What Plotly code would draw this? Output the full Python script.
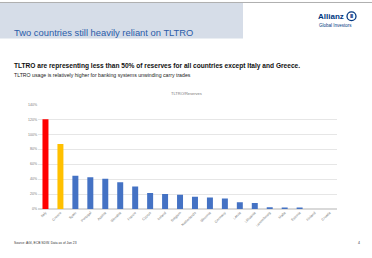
import plotly.graph_objects as go

W, H = 372, 258

countries = ["Italy", "Greece", "Spain", "Portugal", "Austria", "Slovakia", "France",
             "Cyprus", "Ireland", "Belgium", "Netherlands", "Slovenia", "Germany",
             "Latvia", "Lithuania", "Luxembourg", "Malta", "Estonia", "Finland", "Croatia"]
tltro_reserves = [120, 87, 44.5, 42.5, 40.5, 36, 30, 21.5, 20, 19, 16.5, 15.5, 14,
                  9, 8, 2.5, 1.5, 1.2, 0, 0]
y_ticks = [0, 20, 40, 60, 80, 100, 120, 140]
y_tick_labels = ["0%", "20%", "40%", "60%", "80%", "100%", "120%", "140%"]

colors = ["#ff0000", "#ffc000"] + ["#4472c4"] * (len(countries) - 2)

def px(x):
    return x / W

def py(y):
    return 1 - y / H

fig = go.Figure()
fig.add_trace(go.Bar(x=countries, y=tltro_reserves, marker_color=colors,
                     marker_line_width=0, showlegend=False))

fig.update_layout(
    width=W, height=H,
    margin=dict(l=0, r=0, t=0, b=0),
    paper_bgcolor="white", plot_bgcolor="white",
    bargap=0.6,
    font=dict(family="Arial, Liberation Sans, sans-serif"),
    xaxis=dict(domain=[px(38), px(337)], tickangle=-45, tickfont=dict(size=3.5, color="#777"),
               showgrid=False, showline=False, ticks="", ticklen=0),
    yaxis=dict(domain=[py(210.3), py(104)], range=[0, 140], tickvals=y_ticks,
               ticktext=y_tick_labels, tickfont=dict(size=3.5, color="#777"),
               gridcolor="#e6e6e6", gridwidth=1, zeroline=True, zerolinecolor="#d9d9d9",
               showline=False, ticks="", ticklen=0),
    shapes=[
        dict(type="rect", xref="paper", yref="paper", x0=0, x1=px(243), y0=py(37), y1=py(1),
             fillcolor="#d6dde8", line_width=0, layer="below"),
        dict(type="line", xref="paper", yref="paper", x0=0, x1=1, y0=py(0.5), y1=py(0.5),
             line=dict(color="#b0b0b0", width=1)),
        dict(type="circle", xref="paper", yref="paper", x0=px(347), x1=px(356),
             y0=py(19), y1=py(10), line=dict(color="#003781", width=1.3)),
    ],
    annotations=[
        dict(text="Two countries still heavily reliant on TLTRO", x=px(12), y=py(31),
             xref="paper", yref="paper", xanchor="left", yanchor="middle", showarrow=False,
             font=dict(size=9.4, color="#2b5ca8")),
        dict(text="<b>Allianz</b>", x=px(316), y=py(14.5), xref="paper", yref="paper",
             xanchor="left", yanchor="middle", showarrow=False,
             font=dict(size=8, color="#003781")),
        dict(text="<b>ⅲ</b>", x=px(351.5), y=py(14.5), xref="paper", yref="paper",
             xanchor="center", yanchor="middle", showarrow=False,
             font=dict(size=5, color="#003781")),
        dict(text="Global Investors", x=px(317), y=py(24), xref="paper", yref="paper",
             xanchor="left", yanchor="middle", showarrow=False,
             font=dict(size=4.5, color="#003781")),
        dict(text="<b>TLTRO are representing less than 50% of reserves for all countries except Italy and Greece.</b>",
             x=px(12), y=py(65), xref="paper", yref="paper", xanchor="left", yanchor="middle",
             showarrow=False, font=dict(size=6.6, color="#111")),
        dict(text="TLTRO usage is relatively higher for banking systems unwinding carry trades",
             x=px(12), y=py(74), xref="paper", yref="paper", xanchor="left", yanchor="middle",
             showarrow=False, font=dict(size=5.2, color="#222")),
        dict(text="TLTRO/Reserves", x=px(186), y=py(93), xref="paper", yref="paper",
             xanchor="center", yanchor="middle", showarrow=False,
             font=dict(size=4, color="#777")),
        dict(text="Source: AGI, ECB SDW. Data as of Jan 23", x=px(12), y=py(245),
             xref="paper", yref="paper", xanchor="left", yanchor="middle", showarrow=False,
             font=dict(size=3.3, color="#333")),
        dict(text="4", x=px(359), y=py(245), xref="paper", yref="paper",
             xanchor="center", yanchor="middle", showarrow=False,
             font=dict(size=3.5, color="#333")),
    ],
)

fig.write_html("out.html")
